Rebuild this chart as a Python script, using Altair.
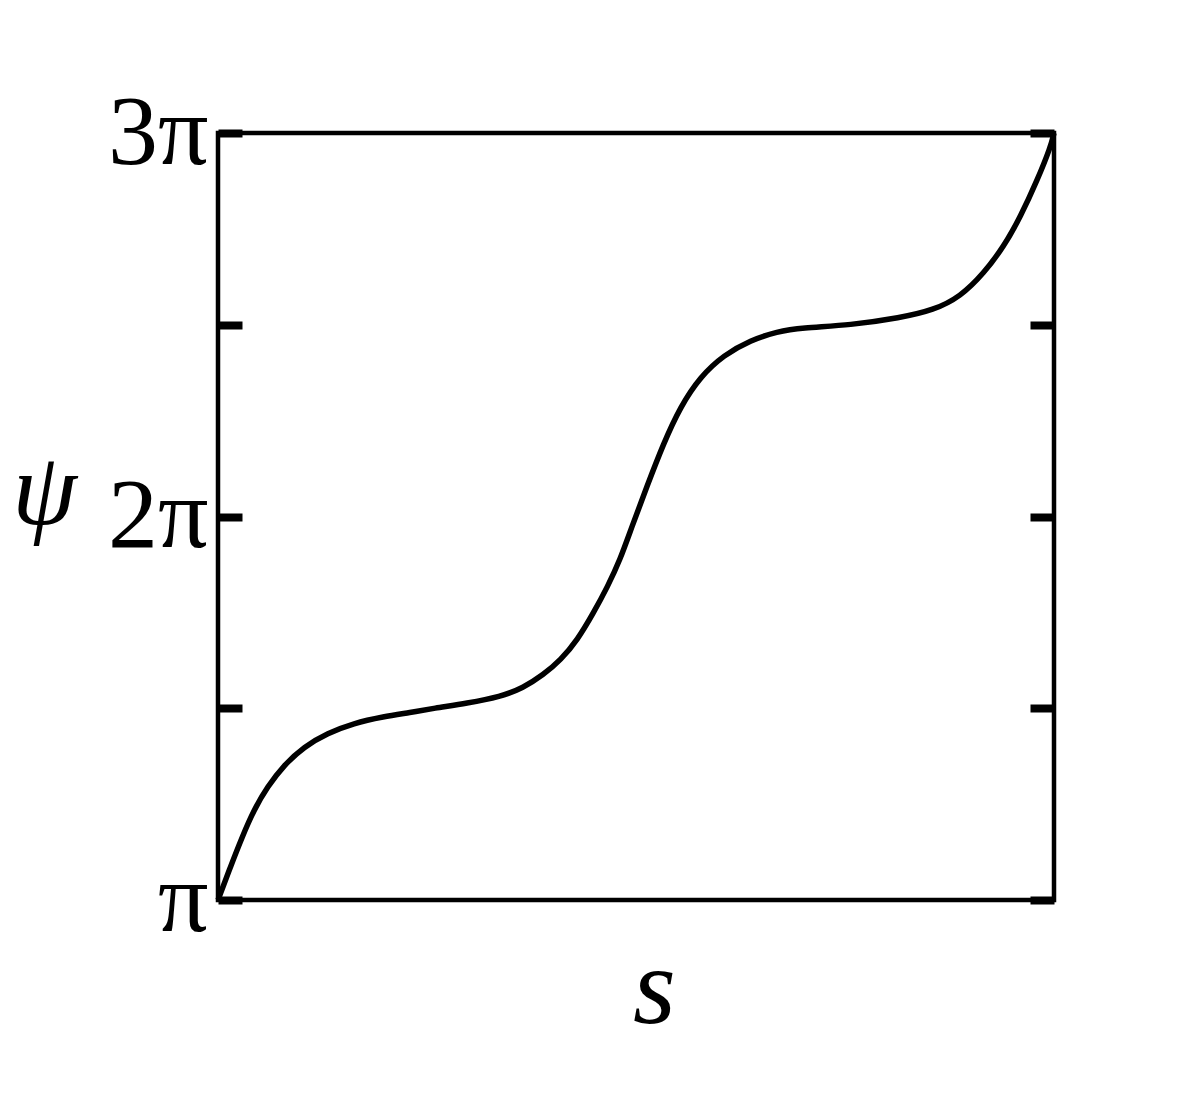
import altair as alt
import pandas as pd

# curve samples: s (0..1) and psi in units of pi
s_vals = [0.0, 0.015, 0.029, 0.043, 0.059, 0.079, 0.103, 0.131, 0.162, 0.198,
          0.230, 0.258, 0.298, 0.338, 0.365, 0.389, 0.410, 0.430, 0.449, 0.466,
          0.481, 0.495, 0.513, 0.533, 0.553, 0.577, 0.605, 0.637, 0.669, 0.697,
          0.757, 0.816, 0.856, 0.888, 0.916, 0.940, 0.960, 0.980, 0.996, 1.0]
psi_vals = [1.000, 1.087, 1.165, 1.235, 1.295, 1.352, 1.400, 1.435, 1.461, 1.478,
            1.489, 1.500, 1.513, 1.530, 1.553, 1.587, 1.626, 1.678, 1.748, 1.817,
            1.887, 1.973, 2.078, 2.191, 2.286, 2.365, 2.421, 2.460, 2.482, 2.492,
            2.499, 2.518, 2.538, 2.573, 2.634, 2.704, 2.782, 2.877, 2.964, 3.000]

tick_values = [1, 1.5, 2, 2.5, 3]
tick_labels = ["π", "", "2π", "", "3π"]

df = pd.DataFrame({"s": s_vals, "psi": psi_vals})

label_expr = " : ".join(
    [f"datum.value == {v} ? '{l}'" for v, l in zip(tick_values, tick_labels)]
) + " : ''"

FONT = "Liberation Serif"

xenc = alt.X("s:Q", scale=alt.Scale(domain=[0, 1], nice=False, zero=False),
             axis=alt.Axis(title="s", domain=False, ticks=False, labels=False, grid=False,
                           titleFont=FONT, titleFontStyle="italic", titleFontWeight="normal",
                           titleFontSize=110, titleColor="black",
                           titleAlign="center", titleBaseline="alphabetic",
                           titleX=436, titleY=122))

yscale = alt.Scale(domain=[1, 3], nice=False, zero=False)

left = alt.Chart(df).mark_line(color="black", strokeWidth=5.5, interpolate="basis").encode(
    x=xenc,
    y=alt.Y("psi:Q", scale=yscale,
            axis=alt.Axis(orient="left", title="ψ", values=tick_values, labelExpr=label_expr,
                          domain=False, grid=False, offset=-24, tickSize=24, tickWidth=8,
                          tickColor="black", labelPadding=10, labelFont=FONT,
                          labelFontSize=100, labelColor="black", labelBaseline="middle",
                          labelAlign="right", labelFlush=False, labelOverlap=False,
                          titleFont=FONT, titleFontStyle="italic", titleFontWeight="normal",
                          titleFontSize=104, titleColor="black", titleAngle=0,
                          titleAlign="center", titleBaseline="alphabetic",
                          titleX=-198, titleY=390)),
)

right = alt.Chart(df).mark_line(strokeOpacity=0).encode(
    x=xenc,
    y=alt.Y("psi:Q", scale=yscale,
            axis=alt.Axis(orient="right", title=None, values=tick_values, labels=False,
                          domain=False, grid=False, offset=-24, tickSize=24, tickWidth=8,
                          tickColor="black")),
)

chart = alt.layer(left, right).resolve_axis(y="independent").properties(
    width=836, height=767,
    background="white",
    autosize=alt.AutoSizeParams(type="none"),
    padding={"left": 210, "top": 125, "right": 100, "bottom": 150},
).configure_view(stroke="black", strokeWidth=4.5)

chart.save("out.html", embed_options={"renderer": "svg", "actions": False})
